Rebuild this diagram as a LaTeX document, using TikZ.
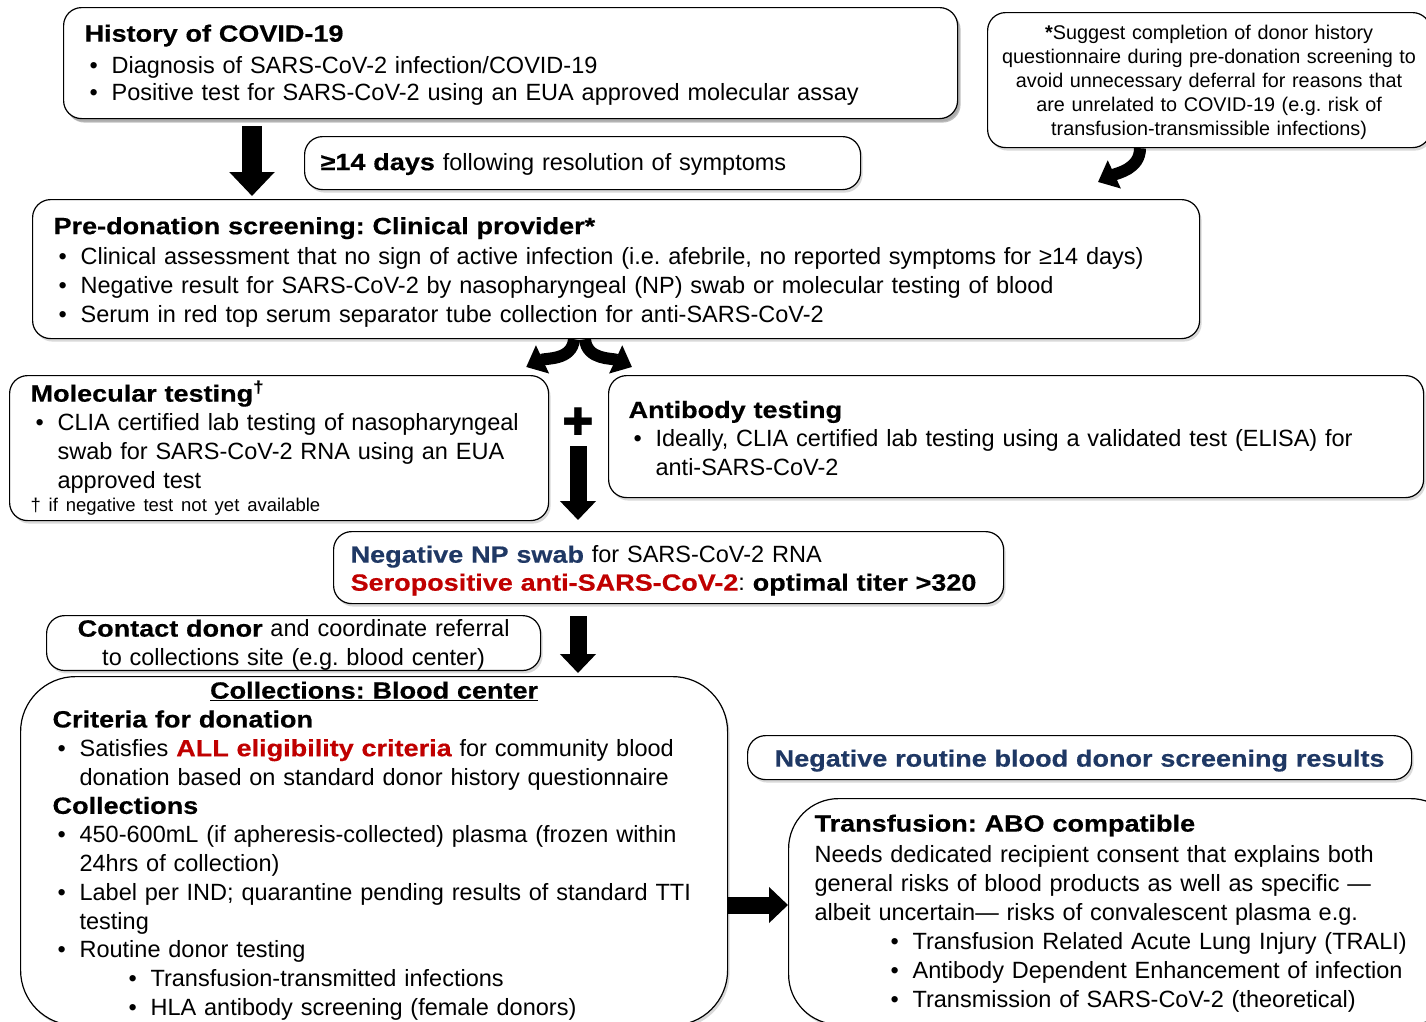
\documentclass[tikz,border=0pt]{standalone}
\usepackage{fontspec}
\setmainfont{Liberation Sans}
\newfontfamily\hv{Liberation Sans}[BoldFeatures={FakeStretch=1.15,FakeBold=0.5}]
\newfontfamily\dv{DejaVu Sans}
\usetikzlibrary{arrows.meta, shadows, positioning}
\frenchspacing

\definecolor{navy}{HTML}{1F3864}
\definecolor{darkred}{HTML}{C00000}

\newcommand\hd[1]{{\hv\bfseries #1}}
\newcommand\lift[1]{\rule{0pt}{#1}}
\newcommand\itm[1]{\par\hangindent=27pt\hangafter=1\noindent\hspace*{5pt}\makebox[22pt][l]{•}#1\par}
\newcommand\subitm[1]{\par\hangindent=98pt\hangafter=1\noindent\hspace*{76pt}\makebox[22pt][l]{•}#1\par}

\tikzset{
  txt/.style={font=\fontsize{23.5}{27.5}\selectfont},
  box/.style={draw, line width=1.2pt, fill=white, rounded corners=18pt, anchor=north west,
    align=left, inner ysep=0pt, txt,
    drop shadow={opacity=.3, shadow xshift=2pt, shadow yshift=-3pt}},
  bigarrow/.style={line width=20pt, -{Triangle[width=44pt,length=24pt]}},
  midarrow/.style={line width=17pt, -{Triangle[width=35pt,length=19pt]}},
  bendarrow/.style={line width=12pt, -{Triangle[width=30pt,length=18pt]}},
}

\begin{document}
\begin{tikzpicture}[x=1pt, y=-1pt]
  \useasboundingbox (0,0) rectangle (1426,1021);

  % top row
  \node[box, inner xsep=21pt, text width=852pt, minimum height=111pt,
    drop shadow={opacity=.5, shadow xshift=3pt, shadow yshift=-4pt}] (hist) at (63,7)
    {\noindent\lift{21pt}\hd{History of COVID-19}\par\vspace{4pt}
     \itm{Diagnosis of SARS-CoV-2 infection/COVID-19}
     \itm{Positive test for SARS-CoV-2 using an EUA approved molecular assay}};

  \node[box, inner xsep=16pt, text width=524pt, minimum height=53pt] (days) at (304,136)
    {\noindent\lift{19pt}\hd{≥14 days} following resolution of symptoms};

  \node[box, align=center, inner xsep=8pt, text width=427pt, minimum height=135pt,
    font=\fontsize{19.8}{24.2}\selectfont] (note) at (987,12)
    {\lift{19pt}\textbf{*}Suggest completion of donor history\\
     questionnaire during pre-donation screening to\\
     avoid unnecessary deferral for reasons that\\
     are unrelated to COVID-19 (e.g. risk of\\
     transfusion-transmissible infections)};

  \node[box, inner xsep=21pt, text width=1125pt, minimum height=139pt,
    font=\fontsize{23.5}{29}\selectfont] (pre) at (32,199)
    {\noindent\lift{23pt}\hd{Pre-donation screening: Clinical provider*}\par\vspace{1pt}
     \itm{Clinical assessment that no sign of active infection (i.e. afebrile, no reported symptoms for ≥14 days)}
     \itm{Negative result for SARS-CoV-2 by nasopharyngeal (NP) swab or molecular testing of blood}
     \itm{Serum in red top serum separator tube collection for anti-SARS-CoV-2}};

  % testing
  \node[box, inner xsep=21pt, text width=497pt, minimum height=145pt,
    font=\fontsize{23.5}{29}\selectfont] (mol) at (9,375)
    {\noindent\hd{Molecular testing\textsuperscript{†}}\par
     \itm{CLIA certified lab testing of nasopharyngeal\newline swab for SARS-CoV-2 RNA using an EUA\newline approved test}
     {\fontsize{18.5}{23}\selectfont\noindent † if negative test not yet available\par}};

  \node[box, inner xsep=20pt, text width=775pt, minimum height=122pt,
    font=\fontsize{23.5}{29}\selectfont] (anti) at (608,375)
    {\noindent\lift{21pt}\hd{Antibody testing}\par
     \itm{Ideally, CLIA certified lab testing using a validated test (ELISA) for\newline anti-SARS-CoV-2}};

  \node[inner sep=0pt, font=\dv\fontsize{38}{38}\selectfont] (plus) at (578,422) {✚};

  \node[box, inner xsep=17pt, text width=636pt, minimum height=72pt,
    font=\fontsize{23.5}{28}\selectfont] (neg) at (333,531)
    {\noindent\lift{23pt}{\color{navy}\hd{Negative NP swab}} for SARS-CoV-2 RNA\newline
     {\color{darkred}\hd{Seropositive anti-SARS-CoV-2}}: \hd{optimal titer >320}};

  \node[box, align=center, inner xsep=8pt, text width=478pt, minimum height=54pt,
    font=\fontsize{23.5}{29}\selectfont] (contact) at (46,615)
    {\lift{21pt}\hd{Contact donor} and coordinate referral\\to collections site (e.g. blood center)};

  % collections and transfusion
  \node[box, rounded corners=55pt, inner xsep=32pt, inner ysep=5pt, text width=643pt,
    font=\fontsize{23.5}{28.8}\selectfont] (coll) at (20,676)
    {{\centering\underline{\hd{Collections: Blood center}}\par}
     \noindent\hd{Criteria for donation}
     \itm{Satisfies {\color{darkred}\hd{ALL eligibility criteria}} for community blood\newline donation based on standard donor history questionnaire}
     \noindent\hd{Collections}
     \itm{450-600mL (if apheresis-collected) plasma (frozen within\newline 24hrs of collection)}
     \itm{Label per IND; quarantine pending results of standard TTI\newline testing}
     \itm{Routine donor testing}
     \subitm{Transfusion-transmitted infections}
     \subitm{HLA antibody screening (female donors)}};

  \node[box, align=center, inner xsep=12pt, text width=640pt, minimum height=44pt] (negrout) at (747,735)
    {\lift{23pt}{\color{navy}\hd{Negative routine blood donor screening results}}};

  \node[box, rounded corners=50pt, inner xsep=26pt, inner ysep=12pt, text width=620pt,
    font=\fontsize{23.5}{29}\selectfont] (trans) at (788,798)
    {\noindent\lift{21pt}\hd{Transfusion: ABO compatible}\par\vspace{2pt}
     \noindent Needs dedicated recipient consent that explains both\newline
     general risks of blood products as well as specific —\newline
     albeit uncertain— risks of convalescent plasma e.g.
     \subitm{Transfusion Related Acute Lung Injury (TRALI)}
     \subitm{Antibody Dependent Enhancement of infection}
     \subitm{Transmission of SARS-CoV-2 (theoretical)}};

  % arrows
  \draw[bigarrow] ([xshift=189pt,yshift=-7pt]hist.south west) -- ([xshift=220pt,yshift=3pt]pre.north west);
  \draw[bendarrow] ([xshift=153pt]note.south west) to[out=-90, in=25] ([xshift=1066pt,yshift=17pt]pre.north west);
  \draw[bendarrow] ([xshift=542pt]pre.south west) to[out=-95, in=25] ([xshift=-23pt,yshift=8pt]mol.north east);
  \draw[bendarrow] ([xshift=553pt]pre.south west) to[out=-85, in=155] ([xshift=24pt,yshift=8pt]anti.north west);
  \draw[midarrow] ([yshift=-24pt]plus.center) -- ([xshift=245pt,yshift=11pt]neg.north west);
  \draw[midarrow] ([xshift=245pt,yshift=-12pt]neg.south west) -- ([xshift=558pt,yshift=3pt]coll.north west);
  \draw[midarrow] ([xshift=707pt,yshift=-229pt]coll.north west) -- ([yshift=-107pt]trans.north west);
\end{tikzpicture}
\end{document}
